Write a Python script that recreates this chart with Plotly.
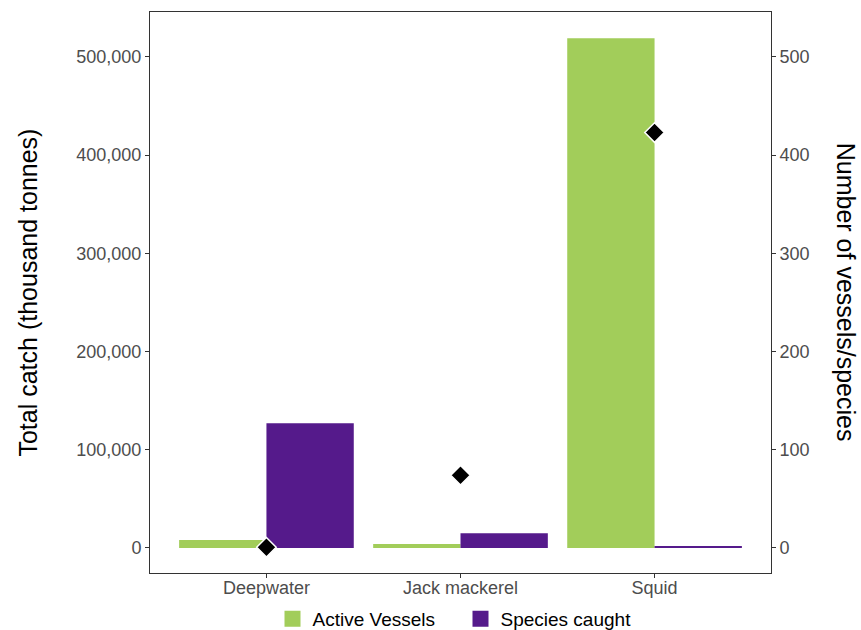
import plotly.graph_objects as go

categories = ["Deepwater", "Jack mackerel", "Squid"]
active_vessels = [8, 4, 519]
species_caught = [127, 15, 1]
total_catch = [700, 74000, 423000]

left_ticks = [0, 100000, 200000, 300000, 400000, 500000]
right_ticks = [0, 100, 200, 300, 400, 500]

GREEN = "#A2CD5A"
PURPLE = "#551A8B"
FONT = "Liberation Sans, Arial, sans-serif"
TICK_COLOR = "#4D4D4D"

fig = go.Figure()

fig.add_trace(go.Bar(x=categories, y=active_vessels, name="Active Vessels",
                     marker=dict(color=GREEN, line=dict(width=0)),
                     yaxis="y", showlegend=False))
fig.add_trace(go.Bar(x=categories, y=species_caught, name="Species caught",
                     marker=dict(color=PURPLE, line=dict(width=0)),
                     yaxis="y", showlegend=False))

# legend proxies (larger squares)
fig.add_trace(go.Scatter(x=[None], y=[None], mode="markers", name="Active Vessels",
                         marker=dict(symbol="square", size=16, color=GREEN), yaxis="y"))
fig.add_trace(go.Scatter(x=[None], y=[None], mode="markers", name="Species caught",
                         marker=dict(symbol="square", size=16, color=PURPLE), yaxis="y"))

fig.add_trace(go.Scatter(x=categories, y=total_catch, mode="markers", name="Total catch",
                         marker=dict(symbol="diamond", size=15, color="black",
                                     line=dict(color="white", width=1.5)),
                         yaxis="y2", showlegend=False))

fig.update_layout(
    width=861, height=630,
    margin=dict(l=150, r=90, t=12, b=57, autoexpand=False),
    paper_bgcolor="white", plot_bgcolor="white",
    font=dict(family=FONT, size=18, color=TICK_COLOR),
    barmode="group", bargap=0.1, bargroupgap=0,
    showlegend=True,
    legend=dict(orientation="h", x=0.5, xanchor="center", y=-0.082, yanchor="middle",
                font=dict(family=FONT, size=19, color="black"),
                itemsizing="trace", tracegroupgap=0, entrywidth=143),
    xaxis=dict(range=[-0.6, 2.6], showgrid=False, zeroline=False,
               showline=True, mirror=True, linecolor="#333333", linewidth=1,
               ticks="outside", ticklen=4, tickcolor="#333333",
               ticklabelstandoff=-6,
               tickfont=dict(family=FONT, size=18, color=TICK_COLOR)),
    yaxis=dict(side="right", range=[-25.5, 545.8], tickvals=right_ticks,
               showgrid=False, zeroline=False,
               showline=True, mirror=True, linecolor="#333333", linewidth=1,
               ticks="outside", ticklen=4, tickcolor="#333333",
               tickfont=dict(family=FONT, size=18, color=TICK_COLOR)),
    yaxis2=dict(side="left", overlaying="y", range=[-25500, 545800], tickvals=left_ticks,
                tickformat=",", showgrid=False, zeroline=False, showline=False,
                ticks="outside", ticklen=4, tickcolor="#333333",
                tickfont=dict(family=FONT, size=18, color=TICK_COLOR)),
    annotations=[
        dict(text="Total catch (thousand tonnes)", xref="paper", yref="paper",
             x=-0.198, y=0.5, xanchor="center", yanchor="middle", textangle=-90,
             showarrow=False, font=dict(family=FONT, size=25, color="black")),
        dict(text="Number of vessels/species", xref="paper", yref="paper",
             x=1.122, y=0.5, xanchor="center", yanchor="middle", textangle=90,
             showarrow=False, font=dict(family=FONT, size=25, color="black")),
    ],
)

fig.write_html("out.html", config={"displayModeBar": False},
               post_script="document.body.style.margin='0px';")
